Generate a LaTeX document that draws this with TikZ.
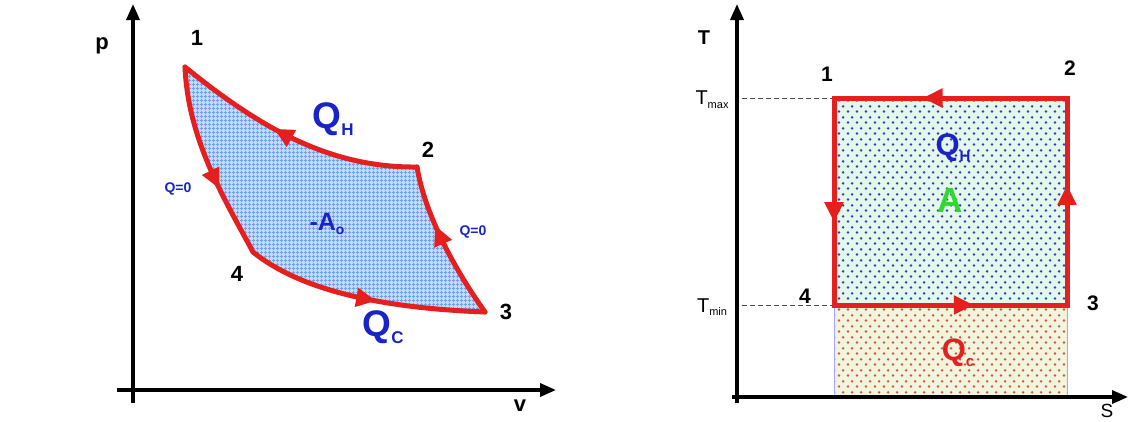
\documentclass[tikz,border=0pt]{standalone}
\usepackage{fontspec}
\setmainfont{Liberation Sans}
\usetikzlibrary{arrows.meta, decorations.markings, patterns.meta}

\definecolor{cycred}{RGB}{228,32,30}
\definecolor{lblblue}{RGB}{25,35,200}
\definecolor{lblgreen}{RGB}{50,215,50}
\definecolor{gridfill}{RGB}{195,218,246}
\definecolor{gridline}{RGB}{115,160,228}
\definecolor{hotfill}{RGB}{228,247,236}
\definecolor{hotdot}{RGB}{45,65,170}
\definecolor{coldfill}{RGB}{242,244,222}
\definecolor{colddot}{RGB}{200,90,55}

\tikzdeclarepattern{
  name=finegrid, type=uncolored,
  bottom left={(0pt,0pt)}, top right={(4pt,4pt)}, tile size={(4pt,4pt)},
  code={\draw[line width=0.9pt] (0pt,2pt) -- (4pt,2pt) (2pt,0pt) -- (2pt,4pt);}
}
\tikzdeclarepattern{
  name=sparsedots, type=uncolored,
  bottom left={(0pt,0pt)}, top right={(9pt,11pt)}, tile size={(9pt,11pt)},
  code={\fill (2.25pt,2.75pt) circle (1.5pt); \fill (6.75pt,8.25pt) circle (1.5pt);}
}

\newcommand{\bigsub}[3]{#1\raisebox{-0.35ex}{\fontsize{#3}{#3}\selectfont #2}}

\begin{document}
\begin{tikzpicture}[
  x=1pt, y=-1pt,
  axis/.style={line width=3.5pt, -{Triangle[length=16pt,width=13pt]}},
  cycline/.style={draw=cycred, line width=5pt, line cap=round, line join=round},
  flow/.style={postaction={decorate}, decoration={markings,
    mark=at position #1 with {\arrow[cycred]{Triangle[length=20pt,width=18pt]}}}},
  isoline/.style={dash pattern=on 5pt off 3pt, line width=1pt, black!70},
  point/.style={font=\fontsize{22}{22}\selectfont\bfseries},
  axlabel/.style={font=\fontsize{22}{22}\selectfont\bfseries},
  qzero/.style={text=lblblue, font=\fontsize{14}{14}\selectfont\bfseries}
]
\useasboundingbox (0,0) rectangle (1129,421);

% p-v diagram
\coordinate (a1) at (185,67);
\coordinate (a2) at (417,167);
\coordinate (a3) at (485,312);
\coordinate (a4) at (253,252);

\fill[gridfill] (a1) .. controls (188,140) and (225,200) .. (a4)
  .. controls (300,290) and (380,308) .. (a3)
  .. controls (455,270) and (425,215) .. (a2)
  .. controls (330,168) and (260,128) .. (a1) -- cycle;
\path[pattern=finegrid, pattern color=gridline] (a1) .. controls (188,140) and (225,200) .. (a4)
  .. controls (300,290) and (380,308) .. (a3)
  .. controls (455,270) and (425,215) .. (a2)
  .. controls (330,168) and (260,128) .. (a1) -- cycle;

\draw[cycline, flow=0.58] (a2) .. controls (330,168) and (260,128) .. (a1);
\draw[cycline, flow=0.64] (a1) .. controls (188,140) and (225,200) .. (a4);
\draw[cycline, flow=0.55] (a4) .. controls (300,290) and (380,308) .. (a3);
\draw[cycline, flow=0.62] (a3) .. controls (455,270) and (425,215) .. (a2);

\draw[axis] (133,403) -- (133,4);
\draw[axis] (117,390) -- (556,390);

\node[axlabel] (plab) at (102,46) {p};
\node[axlabel] (vlab) at (520,406) {v};
\node[point] (n1) at (197,38) {1};
\node[point] (n2) at (428,150) {2};
\node[point] (n3) at (506,312) {3};
\node[point] (n4) at (237,274) {4};
\node[text=lblblue, font=\fontsize{37}{37}\selectfont\bfseries] (qhot) at (333,119) {\bigsub{Q}{H}{17}};
\node[text=lblblue, font=\fontsize{37}{37}\selectfont\bfseries] (qcold) at (383,327) {\bigsub{Q}{C}{17}};
\node[text=lblblue, font=\fontsize{25}{25}\selectfont\bfseries] (work) at (327,224) {\bigsub{-A}{o}{14}};
\node[qzero] (qz14) at (178,189) {Q=0};
\node[qzero] (qz32) at (473,232) {Q=0};

% T-S diagram
\coordinate (b1) at (834,98);
\coordinate (b2) at (1067,98);
\coordinate (b3) at (1067,305);
\coordinate (b4) at (834,305);
\coordinate (b5) at (1067,396);
\coordinate (b6) at (834,396);

\fill[hotfill] (b1) rectangle (b3);
\path[pattern=sparsedots, pattern color=hotdot] (b1) rectangle (b3);
\fill[coldfill] (b4) rectangle (b5);
\path[pattern=sparsedots, pattern color=colddot] (b4) rectangle (b5);
\draw[blue!35, line width=0.6pt] (b4) -- (b6) (b3) -- (b5);

\draw[isoline] (742,98) -- (b1);
\draw[isoline] (742,305) -- (b4);

\draw[cycline, line cap=rect, flow=0.6] (b1) -- (b4);
\draw[cycline, line cap=rect, flow=0.6] (b4) -- (b3);
\draw[cycline, line cap=rect, flow=0.58] (b3) -- (b2);
\draw[cycline, line cap=rect, flow=0.62] (b2) -- (b1);

\draw[axis] (737,403) -- (737,4);
\draw[axis] (732,397) -- (1128,397);

\node[font=\fontsize{20}{20}\selectfont\bfseries] (tlab) at (704,38) {T};
\node[font=\fontsize{19}{19}\selectfont] (slab) at (1107,411) {S};
\node[font=\fontsize{20}{20}\selectfont] (tmax) at (712,100) {\bigsub{T}{max}{11}};
\node[font=\fontsize{20}{20}\selectfont] (tmin) at (712,307) {\bigsub{T}{min}{11}};
\node[point, font=\fontsize{21}{21}\selectfont\bfseries] (m1) at (827,74) {1};
\node[point, font=\fontsize{21}{21}\selectfont\bfseries] (m2) at (1070,68) {2};
\node[point, font=\fontsize{21}{21}\selectfont\bfseries] (m3) at (1093,303) {3};
\node[point, font=\fontsize{21}{21}\selectfont\bfseries] (m4) at (805,296) {4};
\node[text=lblblue, font=\fontsize{31}{31}\selectfont\bfseries] (shot) at (953,148) {\bigsub{Q}{H}{15}};
\node[text=lblgreen, font=\fontsize{35}{35}\selectfont\bfseries] (sarea) at (950,200) {A};
\node[text=cycred, font=\fontsize{31}{31}\selectfont\bfseries] (scold) at (958,353) {\bigsub{Q}{c}{15}};
\end{tikzpicture}
\end{document}
